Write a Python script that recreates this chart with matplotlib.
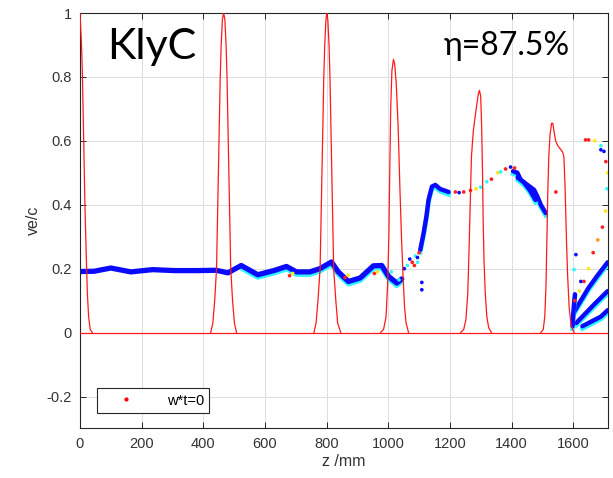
import matplotlib
matplotlib.use('Agg')
import matplotlib.pyplot as plt
import matplotlib.transforms as mtransforms
from matplotlib.colors import LinearSegmentedColormap
from matplotlib.lines import Line2D

# red field profile, traced peak by peak (z in mm, relative amplitude)
p1_z = [0, 5, 8, 12, 16, 20, 24, 28, 33, 40]
p1_v = [1.0, 0.9, 0.8, 0.6, 0.4, 0.25, 0.12, 0.05, 0.01, 0.0]
p2_z = [424, 431, 437, 443, 447, 451, 455, 458, 462, 466, 470, 474, 477, 481, 485, 489, 495, 501, 508]
p2_v = [0.0, 0.03, 0.1, 0.2, 0.4, 0.6, 0.8, 0.9, 0.98, 1.0, 0.98, 0.9, 0.8, 0.6, 0.4, 0.2, 0.1, 0.03, 0.0]
p3_z = [759, 766, 772, 779, 783, 787, 791, 794, 798, 801, 804, 808, 811, 815, 819, 823, 830, 836, 846]
p3_v = [0.0, 0.03, 0.1, 0.2, 0.4, 0.6, 0.8, 0.9, 0.98, 1.0, 0.98, 0.9, 0.8, 0.6, 0.4, 0.2, 0.1, 0.03, 0.0]
p4_z = [975, 985, 993, 998, 1002, 1005, 1008, 1012, 1017, 1021, 1026, 1032, 1038, 1043, 1048, 1053, 1058, 1066]
p4_v = [0.0, 0.01, 0.05, 0.15, 0.3, 0.5, 0.7, 0.82, 0.855, 0.84, 0.78, 0.65, 0.45, 0.3, 0.18, 0.08, 0.03, 0.0]
p5_z = [1235, 1245, 1252, 1258, 1262, 1266, 1270, 1276, 1284, 1292, 1296, 1300, 1303, 1306, 1308, 1311, 1315, 1320, 1326, 1335]
p5_v = [0.0, 0.01, 0.04, 0.12, 0.25, 0.4, 0.55, 0.63, 0.69, 0.745, 0.758, 0.74, 0.65, 0.5, 0.35, 0.22, 0.12, 0.05, 0.015, 0.0]
p6_z = [1495, 1503, 1508, 1512, 1515, 1518, 1521, 1525, 1530, 1534, 1538, 1543, 1550, 1558, 1566, 1570, 1574, 1578, 1582, 1587, 1593, 1603]
p6_v = [0.0, 0.01, 0.05, 0.15, 0.3, 0.45, 0.55, 0.62, 0.655, 0.655, 0.63, 0.6, 0.585, 0.575, 0.565, 0.55, 0.45, 0.3, 0.18, 0.08, 0.025, 0.0]
base_z = [0, 1713]
base_v = [0.0, 0.0]

# electron bunch: dense band traced along its centre
band_z = [0, 46, 100, 165, 236, 306, 381, 442, 480, 523, 577, 632, 670, 702, 746, 778,
          816, 838, 871, 909, 952, 979, 1001, 1028, 1044]
band_v = [0.191, 0.192, 0.202, 0.19, 0.197, 0.194, 0.194, 0.195, 0.187, 0.21, 0.181, 0.195,
          0.207, 0.19, 0.19, 0.2, 0.221, 0.19, 0.16, 0.171, 0.209, 0.21, 0.176, 0.155, 0.168]
rise_z = [1104, 1115, 1124, 1131, 1142, 1153, 1169, 1196]
rise_v = [0.259, 0.312, 0.364, 0.416, 0.457, 0.462, 0.449, 0.44]
fall_z = [1405, 1419, 1430, 1452, 1473, 1484, 1495, 1511]
fall_v = [0.505, 0.5, 0.478, 0.462, 0.447, 0.426, 0.40, 0.374]
fall2_z = [1420, 1440, 1460, 1478]
fall2_v = [0.485, 0.47, 0.445, 0.415]

# decelerated streaks at the output
s1_z = [1600, 1625, 1650, 1680, 1712]
s1_v = [0.06, 0.10, 0.14, 0.18, 0.22]
s2_z = [1610, 1640, 1670, 1712]
s2_v = [0.03, 0.06, 0.09, 0.13]
s3_z = [1630, 1660, 1690, 1712]
s3_v = [0.02, 0.035, 0.05, 0.07]
s0_z = [1598, 1600, 1603, 1606]
s0_v = [0.02, 0.05, 0.09, 0.12]

# loose particles: z, v, colour value (0 blue, .35 cyan, .65 yellow, 1 red)
dot_z = [1052, 1062, 1070, 1078, 1088, 1095, 1100, 1109, 1109,
         1218, 1230, 1245, 1267, 1285, 1300, 1320, 1335, 1355, 1365, 1381, 1397, 1410,
         1544, 1605, 1620, 1635, 1650, 1665, 1680, 1695, 1705, 1710, 1712, 1706, 1700,
         1690, 1670, 1650, 1640, 1609, 1603, 1625, 1690,
         680, 690, 860, 870, 955, 965, 1010, 1035, 1085, 1095]
dot_v = [0.2, 0.21, 0.23, 0.22, 0.24, 0.235, 0.25, 0.157, 0.134,
         0.44, 0.438, 0.44, 0.445, 0.45, 0.455, 0.472, 0.48, 0.5, 0.503, 0.512, 0.518, 0.515,
         0.44, 0.1, 0.13, 0.16, 0.2, 0.25, 0.29, 0.33, 0.38, 0.45, 0.5, 0.535, 0.567,
         0.585, 0.6, 0.603, 0.603, 0.244, 0.197, 0.16, 0.572,
         0.178, 0.185, 0.172, 0.18, 0.185, 0.19, 0.19, 0.165, 0.21, 0.22]
dot_c = [0.0, 0.35, 0.0, 1.0, 0.35, 0.0, 1.0, 0.0, 0.0,
         1.0, 0.0, 1.0, 1.0, 0.65, 0.35, 0.35, 1.0, 0.65, 0.35, 1.0, 0.0, 1.0,
         1.0, 1.0, 0.65, 1.0, 0.65, 1.0, 0.8, 1.0, 0.65, 0.35, 0.65, 1.0, 0.0,
         0.35, 0.65, 1.0, 1.0, 0.0, 0.35, 0.0, 0.0,
         1.0, 0.65, 1.0, 0.65, 1.0, 0.65, 0.35, 0.35, 1.0, 0.35]

phase_cmap = LinearSegmentedColormap.from_list(
    'phase', [(0, '#0a0aff'), (0.35, '#30f5ff'), (0.65, '#ffe81a'), (0.8, '#ff9a1a'), (1, '#ff2020')])

fig = plt.figure(figsize=(6.13, 4.78), dpi=100)
ax = fig.add_axes([0.1305, 0.1036, 0.8613, 0.8692])

blue = '#0a0aff'
cyan = '#30f5ff'
# cyan fringe slightly under the band
fringe = mtransforms.offset_copy(ax.transData, fig=fig, x=0, y=-2.5, units='dots')
ax.plot(band_z[9:], band_v[9:], color=cyan, lw=3.6, solid_capstyle='round', transform=fringe)
ax.plot(band_z, band_v, color=blue, lw=3.8, solid_capstyle='round')
ax.plot(rise_z, rise_v, color=cyan, lw=3.2, transform=fringe)
ax.plot(rise_z, rise_v, color=blue, lw=3.2, solid_capstyle='round')
for zz, vv in [(fall_z, fall_v), (fall2_z, fall2_v), (s1_z, s1_v), (s2_z, s2_v), (s3_z, s3_v), (s0_z, s0_v)]:
    ax.plot(zz, vv, color=cyan, lw=3.2, transform=fringe)
    ax.plot(zz, vv, color=blue, lw=3.2, solid_capstyle='round')

ax.scatter(dot_z, dot_v, c=dot_c, cmap=phase_cmap, vmin=0, vmax=1, s=7, linewidths=0, zorder=3)

for zz, vv in [(base_z, base_v), (p1_z, p1_v), (p2_z, p2_v), (p3_z, p3_v),
               (p4_z, p4_v), (p5_z, p5_v), (p6_z, p6_v)]:
    ax.plot(zz, vv, color='#ff1a1a', lw=0.9, zorder=4)

ax.set_xlim(0, 1713)
ax.set_ylim(-0.3, 1.0)
ax.set_xticks(range(0, 1601, 200))
ax.set_yticks([-0.2, 0, 0.2, 0.4, 0.6, 0.8, 1])
ax.set_yticklabels(['-0.2', '0', '0.2', '0.4', '0.6', '0.8', '1'])
ax.grid(True, color='#dcdce6', lw=0.7)
ax.set_axisbelow(True)
ax.tick_params(direction='in', top=True, right=True, length=4, width=0.7,
               labelsize=10.5, labelcolor='#333333', color='#262626', pad=6)
for sp in ax.spines.values():
    sp.set_linewidth(0.8)
    sp.set_color('#262626')

ax.set_xlabel('z /mm', fontsize=11.5, color='#333333', labelpad=2)
ax.set_ylabel('ve/c', fontsize=11.5, color='#333333', labelpad=4)

fnt = ['Liberation Sans', 'DejaVu Sans']
for lab in ax.get_xticklabels() + ax.get_yticklabels():
    lab.set_family(fnt)
ax.xaxis.label.set_family(fnt)
ax.yaxis.label.set_family(fnt)

handle = Line2D([], [], color='#ff0000', marker='.', ls='none', markersize=4)
leg = ax.legend([handle], ['w*t=0'], loc='lower left', bbox_to_anchor=(0.033, 0.038),
                borderaxespad=0, fancybox=False, edgecolor='#262626', framealpha=1,
                prop={'family': fnt, 'size': 10.5}, handlelength=3.2, handletextpad=1.2,
                borderpad=0.35)
leg.get_frame().set_linewidth(0.8)

fig.text(0.1746, 0.8766, 'KlyC', fontsize=31, family=['Lato', 'DejaVu Sans'], va='baseline')
fig.text(0.724, 0.885, 'η=87.5%', fontsize=23, family=['Lato', 'DejaVu Sans'], va='baseline')

fig.savefig('out.png', dpi=100)
